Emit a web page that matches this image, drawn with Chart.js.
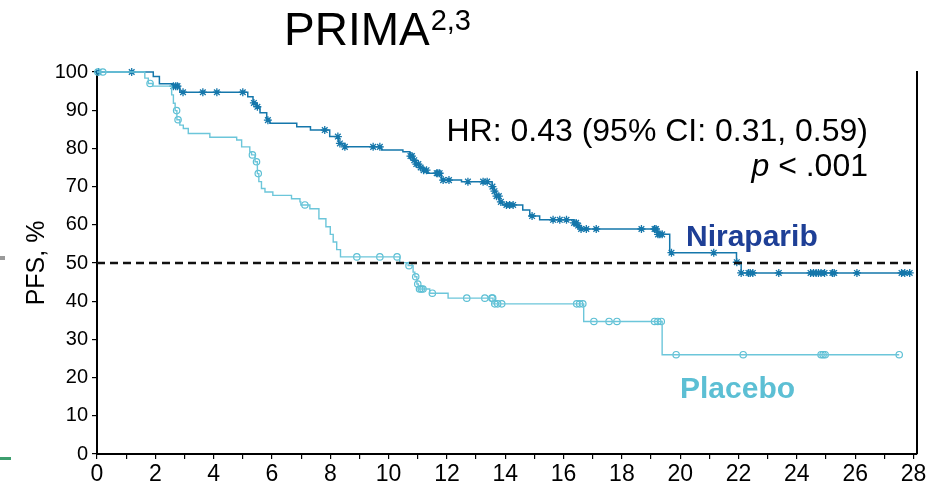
<!DOCTYPE html>
<html>
<head>
<meta charset="utf-8">
<script src="https://cdn.jsdelivr.net/npm/chart.js@4/dist/chart.umd.min.js"></script>
<style>
  html, body { margin: 0; padding: 0; background: #ffffff; }
  #wrap { width: 929px; height: 490px; position: relative; }
</style>
</head>
<body>
<div id="wrap"><canvas id="km" width="929" height="490"></canvas></div>
<script>
// Axis ticks
const xTickLabels = [0, 2, 4, 6, 8, 10, 12, 14, 16, 18, 20, 22, 24, 26, 28];
const yTickLabels = [0, 10, 20, 30, 40, 50, 60, 70, 80, 90, 100];

// Niraparib: event times (months) and PFS (%) after each step
const niraparibTimes = [0, 1.93, 2.14, 2.6, 2.84, 5.17, 5.35, 5.48, 5.59, 5.82, 5.93, 6.85, 7.32, 7.98, 8.29, 8.5,
  9.76, 10.49, 10.73, 10.85, 10.95, 11.05, 11.2, 11.34, 11.81, 12.5, 13.55, 13.62, 13.7, 13.8, 13.91,
  14.6, 14.84, 15.18, 16.35, 16.45, 16.6, 19.22, 19.64, 21.93, 22.09];
const niraparibPFS = [100, 98.8, 96.9, 96.3, 94.7, 93.5, 91.9, 90.9, 89.3, 87.4, 86.6, 85.7, 84.8, 83.1, 81.3, 80.4,
  79.6, 79.1, 78.0, 76.9, 75.9, 75.0, 74.3, 73.5, 71.7, 71.3, 70.0, 68.8, 67.5, 66.0, 65.2,
  63.9, 62.3, 61.3, 60.5, 59.8, 58.9, 57.5, 52.7, 50.2, 47.4];
// Niraparib censoring times (months)
const niraparibCensored = [0.05, 1.19, 2.62, 2.7, 2.76, 2.95, 3.63, 4.11, 5.0, 5.38, 5.5, 5.86, 7.81, 8.26, 8.33, 8.5,
  9.47, 9.7, 10.75, 10.8, 10.88, 10.95, 11.02, 11.1, 11.2, 11.3, 11.65, 11.69, 11.75, 11.87, 12.07,
  12.72, 13.24, 13.38, 13.56, 13.63, 13.7, 13.78, 13.85, 14.04, 14.15, 14.27, 14.92, 15.64, 15.87, 16.1,
  16.36, 16.43, 16.5, 16.6, 16.78, 17.12, 18.67, 19.12, 19.17, 19.24, 19.3, 19.38, 19.7, 21.15, 21.94,
  22.09, 22.34, 22.4, 22.49, 23.38, 24.47, 24.57, 24.66, 24.74, 24.83, 24.95, 25.22, 25.28, 26.06,
  27.59, 27.7, 27.87];

// Placebo: event times (months) and PFS (%) after each step
const placeboTimes = [0, 1.64, 1.76, 1.91, 2.56, 2.62, 2.68, 2.74, 2.84, 2.96, 3.13, 3.87, 4.79, 4.96, 5.24, 5.3,
  5.42, 5.5, 5.55, 5.64, 5.76, 6.03, 6.67, 6.96, 6.99, 7.3, 7.61, 7.85, 8.0, 8.1, 8.22, 8.35,
  10.38, 10.67, 10.84, 10.9, 10.97, 11.02, 11.41, 12.04, 13.58, 16.69, 19.38];
const placeboPFS = [100, 98.4, 97.0, 96.3, 94.0, 91.8, 89.9, 87.5, 86.1, 85.2, 83.9, 82.9, 82.2, 80.4, 79.1, 78.3,
  76.5, 73.4, 71.3, 69.5, 68.6, 67.7, 66.8, 66.0, 65.2, 64.2, 61.6, 59.5, 57.5, 55.5, 53.5, 51.6,
  50.1, 49.3, 47.6, 46.4, 44.5, 43.2, 42.1, 40.8, 39.3, 34.7, 26.0];
// Placebo censoring times (months)
const placeboCensored = [0.03, 0.2, 1.82, 2.73, 2.78, 5.33, 5.47, 5.53, 7.13, 8.91, 9.7, 10.29, 10.7, 10.93, 11.0,
  11.06, 11.12, 11.18, 11.5, 12.68, 13.3, 13.54, 13.57, 13.64, 13.74, 13.88, 16.45, 16.55, 16.66,
  17.04, 17.56, 17.83, 19.12, 19.23, 19.35, 19.86, 22.16, 24.83, 24.9, 24.97, 27.51];

const medianLevel = 50;

const NIRAPARIB_COLOR = '#1577ab';
const PLACEBO_COLOR = '#6cc6da';

// PFS value of a step curve at time t
function pfsAt(times, pfs, t) {
  let v = pfs[0];
  for (let i = 0; i < times.length; i++) {
    if (times[i] <= t) v = pfs[i]; else break;
  }
  return v;
}

function stepCurve(times, pfs, censored) {
  const pts = times.map((t, i) => ({ x: t, y: pfs[i] }));
  const end = Math.max(...censored);
  pts.push({ x: end, y: pfsAt(times, pfs, end) });
  return pts;
}

function censorMarks(times, pfs, censored) {
  return censored.map(t => ({ x: t, y: pfsAt(times, pfs, t) }));
}

const FONT = '"Liberation Sans", Arial, Helvetica, sans-serif';

// Titles, annotations and the right frame line
const annotations = {
  id: 'annotations',
  afterDraw(chart) {
    const ctx = chart.ctx;
    const area = chart.chartArea;
    ctx.save();

    // right frame line
    ctx.strokeStyle = '#000';
    ctx.lineWidth = 2;
    ctx.beginPath();
    ctx.moveTo(area.right, area.top - 1);
    ctx.lineTo(area.right, area.bottom);
    ctx.stroke();

    ctx.fillStyle = '#000';
    ctx.textBaseline = 'alphabetic';

    // title with superscript
    ctx.textAlign = 'left';
    ctx.font = '46px ' + FONT;
    ctx.fillText('PRIMA', 284, 45);
    const tw = ctx.measureText('PRIMA').width;
    ctx.font = '29px ' + FONT;
    ctx.fillText('2,3', 284 + tw + 1, 30);

    // hazard ratio
    ctx.textAlign = 'right';
    ctx.font = '32px ' + FONT;
    ctx.fillText('HR: 0.43 (95% CI: 0.31, 0.59)', 868, 141);

    // p value
    const rest = ' < .001';
    ctx.font = '32px ' + FONT;
    ctx.fillText(rest, 868, 176);
    const rw = ctx.measureText(rest).width;
    ctx.font = 'italic 32px ' + FONT;
    ctx.fillText('p', 868 - rw, 176);

    // series labels
    ctx.textAlign = 'left';
    ctx.font = 'bold 30px ' + FONT;
    ctx.fillStyle = '#1e3f96';
    ctx.fillText('Niraparib', 686, 246);
    ctx.fillStyle = '#5cbfd4';
    ctx.fillText('Placebo', 680, 398);

    // y-axis title
    ctx.fillStyle = '#000';
    ctx.font = '25px ' + FONT;
    ctx.translate(37, 263);
    ctx.rotate(-Math.PI / 2);
    ctx.textAlign = 'center';
    ctx.textBaseline = 'middle';
    ctx.fillText('PFS, %', 0, 0);
    ctx.restore();

    // slide edge marks at the far left
    ctx.save();
    ctx.fillStyle = '#9a9a9a';
    ctx.fillRect(0, 256, 5, 4);
    ctx.fillStyle = '#3d9e6e';
    ctx.fillRect(0, 457, 11, 3);
    ctx.restore();
  }
};

new Chart(document.getElementById('km'), {
  type: 'line',
  data: {
    datasets: [
      {
        label: 'Median',
        data: [{ x: 0, y: medianLevel }, { x: 28.12, y: medianLevel }],
        borderColor: '#111',
        borderWidth: 2.5,
        borderDash: [8, 5],
        pointRadius: 0,
        fill: false
      },
      {
        label: 'Placebo',
        data: stepCurve(placeboTimes, placeboPFS, placeboCensored),
        stepped: 'before',
        borderColor: PLACEBO_COLOR,
        borderWidth: 1.4,
        pointRadius: 0,
        fill: false,
        clip: false
      },
      {
        label: 'Placebo censored',
        data: censorMarks(placeboTimes, placeboPFS, placeboCensored),
        showLine: false,
        pointStyle: 'circle',
        pointRadius: 3.2,
        pointBorderWidth: 1.2,
        pointBorderColor: '#5cbfd4',
        pointBackgroundColor: 'rgba(255,255,255,0)',
        clip: false
      },
      {
        label: 'Niraparib',
        data: stepCurve(niraparibTimes, niraparibPFS, niraparibCensored),
        stepped: 'before',
        borderColor: NIRAPARIB_COLOR,
        borderWidth: 1.5,
        pointRadius: 0,
        fill: false,
        clip: false
      },
      {
        label: 'Niraparib censored',
        data: censorMarks(niraparibTimes, niraparibPFS, niraparibCensored),
        showLine: false,
        pointStyle: 'star',
        pointRadius: 4,
        pointBorderWidth: 1.3,
        pointBorderColor: NIRAPARIB_COLOR,
        pointBackgroundColor: NIRAPARIB_COLOR,
        clip: false
      }
    ]
  },
  options: {
    responsive: false,
    animation: false,
    devicePixelRatio: 1,
    layout: { padding: { top: 72, right: 12, left: 0, bottom: 0 } },
    plugins: { legend: { display: false }, tooltip: { enabled: false } },
    scales: {
      x: {
        type: 'linear',
        min: 0,
        max: 28.12,
        afterBuildTicks(scale) {
          const ticks = [];
          for (let v = 0; v <= 28; v++) ticks.push({ value: v });
          scale.ticks = ticks;
        },
        afterFit(scale) { scale.height = 36; },
        grid: { drawOnChartArea: false, drawTicks: true, tickLength: 5, color: '#000', lineWidth: 1.2 },
        border: { display: true, color: '#000', width: 2 },
        ticks: {
          autoSkip: false,
          maxRotation: 0,
          padding: 2,
          color: '#000',
          font: { family: '"Liberation Sans Narrow", "Liberation Sans", Arial, sans-serif', size: 23 },
          callback: (v) => xTickLabels.includes(v) ? String(v) : ''
        }
      },
      y: {
        type: 'linear',
        min: 0,
        max: 100,
        afterBuildTicks(scale) { scale.ticks = yTickLabels.map(v => ({ value: v })); },
        afterFit(scale) { scale.width = 97; },
        grid: { drawOnChartArea: false, drawTicks: true, tickLength: 5, color: '#000', lineWidth: 1.2 },
        border: { display: true, color: '#000', width: 2 },
        ticks: {
          padding: 4,
          color: '#000',
          font: { family: FONT, size: 20 }
        }
      }
    }
  },
  plugins: [annotations]
});
</script>
</body>
</html>
